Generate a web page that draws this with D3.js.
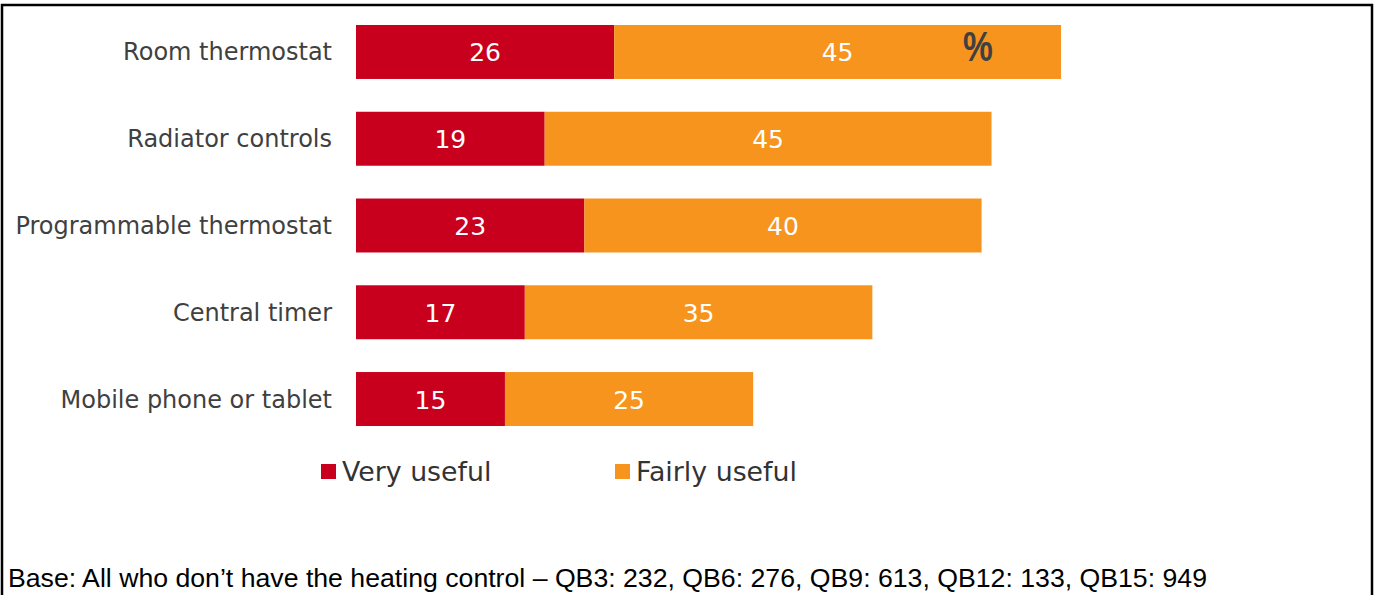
<!DOCTYPE html>
<html>
<head>
<meta charset="utf-8">
<script src="https://cdn.jsdelivr.net/npm/d3@7"></script>
<style>
  html, body { margin: 0; padding: 0; background: #fff; }
  svg { display: block; }
</style>
</head>
<body>
<svg id="chart" width="1378" height="595"></svg>
<script>
const categories = ["Room thermostat", "Radiator controls", "Programmable thermostat", "Central timer", "Mobile phone or tablet"];
const veryUseful = [26, 19, 23, 17, 15];
const fairlyUseful = [45, 45, 40, 35, 25];
const seriesNames = ["Very useful", "Fairly useful"];
const seriesColors = ["#C8001E", "#F7941E"];
const footnote = "Base: All who don\u2019t have the heating control \u2013 QB3: 232, QB6: 276, QB9: 613, QB12: 133, QB15: 949";

const svg = d3.select("#chart");

// frame
svg.append("path")
  .attr("d", "M2,595 L2,5 L1372,5 L1372,595")
  .attr("fill", "none").attr("stroke", "#000").attr("stroke-width", 2.5);

const x = d3.scaleLinear().domain([0, 100]).range([356, 1349]);
const y = d3.scaleBand().domain(categories).range([8.6, 442.4]).paddingInner(0.378).paddingOuter(0.189);

const rows = categories.map((c, i) => ({ cat: c, v: [veryUseful[i], fairlyUseful[i]] }));

const g = svg.append("g");
rows.forEach(r => {
  let acc = 0;
  r.v.forEach((val, si) => {
    const x0 = x(acc), x1 = x(acc + val);
    g.append("rect")
      .attr("x", x0).attr("y", y(r.cat))
      .attr("width", x1 - x0).attr("height", y.bandwidth())
      .attr("fill", seriesColors[si]);
    g.append("text")
      .attr("x", (x0 + x1) / 2).attr("y", y(r.cat) + y.bandwidth() / 2 + 9.5)
      .attr("text-anchor", "middle")
      .attr("font-family", "DejaVu Sans, Verdana, sans-serif")
      .attr("font-size", 25).attr("fill", "#fff")
      .text(val);
    acc += val;
  });
});

// category labels via axis
const yAxis = d3.axisLeft(y).tickSize(0).tickPadding(0);
const ax = svg.append("g").attr("transform", "translate(332,0)").call(yAxis);
ax.select(".domain").remove();
ax.selectAll("text")
  .attr("font-family", "DejaVu Sans, Verdana, sans-serif")
  .attr("font-size", 24).attr("fill", "#404040")
  .attr("dy", null).attr("y", 8.5);

// percent sign
svg.append("text")
  .attr("transform", "translate(978,61) scale(0.78,1)")
  .attr("text-anchor", "middle")
  .attr("font-family", "Liberation Sans, Arial, sans-serif")
  .attr("font-weight", "bold").attr("font-size", 43).attr("fill", "#404040")
  .text("%");

// legend
const legendX = [321, 615];
seriesNames.forEach((n, i) => {
  svg.append("rect").attr("x", legendX[i]).attr("y", 464).attr("width", 15).attr("height", 15).attr("fill", seriesColors[i]);
  svg.append("text").attr("x", legendX[i] + 21).attr("y", 481)
    .attr("font-family", "DejaVu Sans, Verdana, sans-serif")
    .attr("font-size", 26.8).attr("fill", "#333")
    .text(n);
});

// footnote
svg.append("text").attr("x", 8).attr("y", 587)
  .attr("font-family", "Liberation Sans, Arial, sans-serif")
  .attr("font-size", 26.5).attr("fill", "#000")
  .attr("textLength", 1199).attr("lengthAdjust", "spacingAndGlyphs")
  .text(footnote);
</script>
</body>
</html>
